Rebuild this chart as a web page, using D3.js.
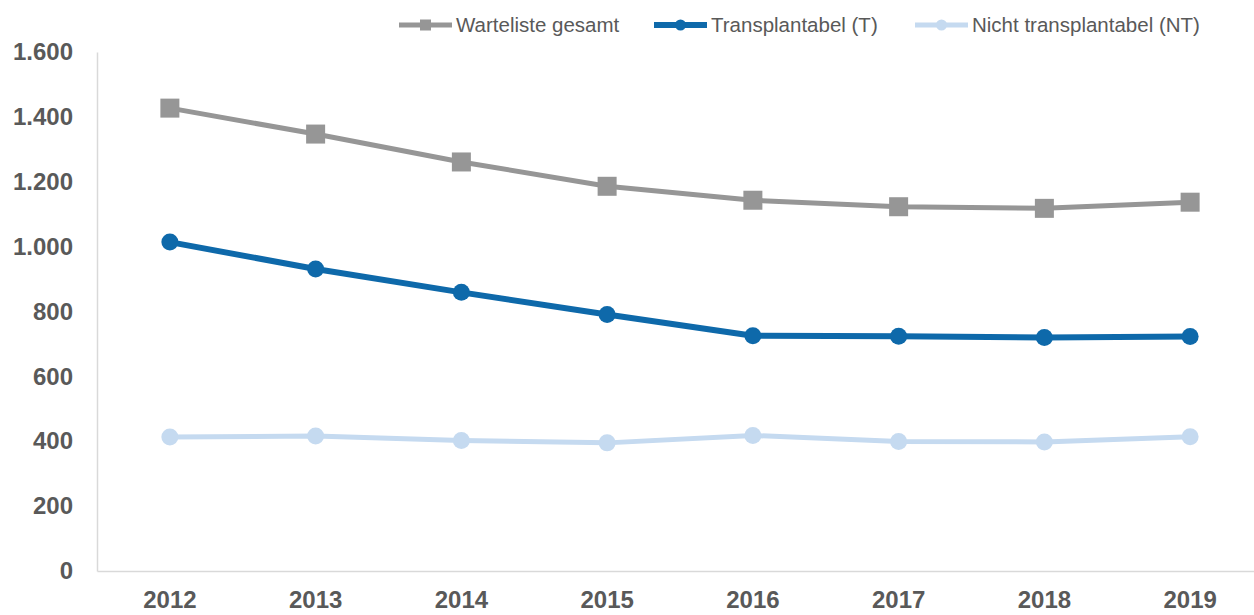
<!DOCTYPE html>
<html>
<head>
<meta charset="utf-8">
<script src="https://cdn.jsdelivr.net/npm/d3@7"></script>
<style>
  html, body { margin: 0; padding: 0; background: #fff; }
  svg { display: block; }
</style>
</head>
<body>
<svg id="chart" width="1254" height="615"></svg>
<script>
const years = ["2012", "2013", "2014", "2015", "2016", "2017", "2018", "2019"];
const gesamt = [1427, 1347, 1261, 1186, 1143, 1123, 1118, 1137];
const transplantabel = [1014, 931, 859, 791, 725, 724, 720, 723];
const nichtTransplantabel = [413, 416, 402, 395, 418, 399, 398, 414];
const yTicks = [0, 200, 400, 600, 800, 1000, 1200, 1400, 1600];
const seriesNames = ["Warteliste gesamt", "Transplantabel (T)", "Nicht transplantabel (NT)"];

const series = [
  { name: seriesNames[0], values: gesamt, color: "#969696", width: 5, marker: "square" },
  { name: seriesNames[1], values: transplantabel, color: "#0e69aa", width: 6, marker: "circle" },
  { name: seriesNames[2], values: nichtTransplantabel, color: "#c5daf0", width: 5, marker: "circle" }
];

const svg = d3.select("#chart");
const fontFamily = "'Liberation Sans', Arial, sans-serif";
const textColor = "#595959";

const mLeft = 97, mRight = 1263, mTop = 52, mBottom = 571;

const x = d3.scaleBand().domain(years).range([mLeft, mRight]).padding(0);
const y = d3.scaleLinear().domain([0, 1600]).range([mBottom, mTop]);

const fmt = v => d3.format(",")(v).replace(/,/g, ".");

// Y axis
const yAxis = svg.append("g")
  .attr("transform", `translate(${mLeft},0)`)
  .call(d3.axisLeft(y).tickValues(yTicks).tickFormat(fmt).tickSize(0).tickPadding(24));
yAxis.select(".domain").attr("stroke", "#d9d9d9").attr("stroke-width", 1.5);
yAxis.selectAll("text")
  .attr("fill", textColor)
  .style("font-family", fontFamily)
  .style("font-size", "24px")
  .style("font-weight", "bold");

// X axis
const xAxis = svg.append("g")
  .attr("transform", `translate(0,${mBottom})`)
  .call(d3.axisBottom(x).tickSize(0).tickPadding(20));
xAxis.select(".domain").attr("stroke", "#d9d9d9").attr("stroke-width", 1.5);
xAxis.selectAll("text")
  .attr("fill", textColor)
  .style("font-family", fontFamily)
  .style("font-size", "24px")
  .style("font-weight", "bold");

const cx = d => x(d) + x.bandwidth() / 2;
const line = d3.line().x((d, i) => cx(years[i])).y(d => y(d));

series.forEach(s => {
  const g = svg.append("g");
  g.append("path")
    .datum(s.values)
    .attr("fill", "none")
    .attr("stroke", s.color)
    .attr("stroke-width", s.width)
    .attr("stroke-linejoin", "round")
    .attr("d", line);
  if (s.marker === "square") {
    g.selectAll("rect").data(s.values).join("rect")
      .attr("x", (d, i) => cx(years[i]) - 9.5)
      .attr("y", d => y(d) - 9.5)
      .attr("width", 19).attr("height", 19)
      .attr("fill", s.color);
  } else {
    g.selectAll("circle").data(s.values).join("circle")
      .attr("cx", (d, i) => cx(years[i]))
      .attr("cy", d => y(d))
      .attr("r", 8.5)
      .attr("fill", s.color);
  }
});

// Legend
const legendX = [399, 654, 915];
const legendY = 25;
series.forEach((s, i) => {
  const g = svg.append("g").attr("transform", `translate(${legendX[i]},${legendY})`);
  g.append("line").attr("x1", 0).attr("x2", 53).attr("y1", 0).attr("y2", 0)
    .attr("stroke", s.color).attr("stroke-width", s.width);
  if (s.marker === "square") {
    g.append("rect").attr("x", 26.5 - 5.5).attr("y", -5.5).attr("width", 11).attr("height", 11).attr("fill", s.color);
  } else {
    g.append("circle").attr("cx", 26.5).attr("cy", 0).attr("r", 5.5).attr("fill", s.color);
  }
  g.append("text")
    .attr("x", 57).attr("y", 0).attr("dy", "0.35em")
    .attr("fill", textColor)
    .style("font-family", fontFamily)
    .style("font-size", "20.5px")
    .text(s.name);
});
</script>
</body>
</html>
